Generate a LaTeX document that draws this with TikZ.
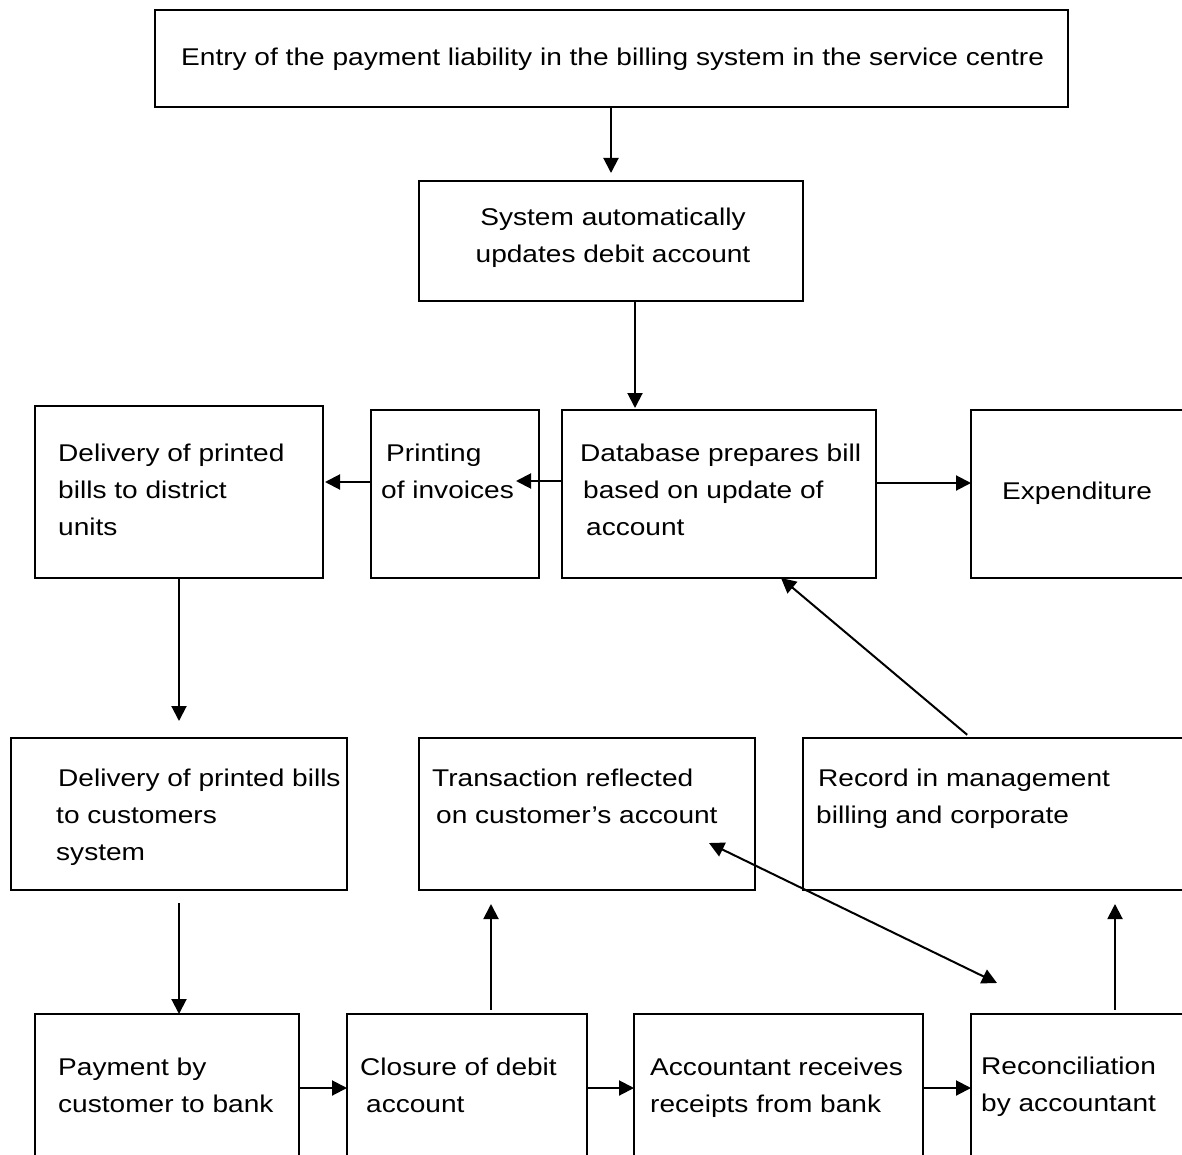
\documentclass[tikz,border=0pt]{standalone}
\usepackage{fontspec}
\setmainfont{Liberation Sans}[FakeStretch=1.16]
\usetikzlibrary{arrows.meta}
\begin{document}
\begin{tikzpicture}[x=1pt,y=-1pt,
  box/.style={draw, line width=2pt, inner sep=0pt, outer sep=0pt, anchor=north west},
  lbl/.style={inner sep=0pt, anchor=base west, font=\fontsize{24.2}{37}\selectfont},
  tip/.tip={Triangle[length=15pt,width=15pt]},
  arr/.style={line width=2pt, -tip},
  darr/.style={line width=2pt, tip-tip}]
\useasboundingbox (0,0) rectangle (1182,1155);
\clip (0,0) rectangle (1182,1155);
\fill[white] (0,0) rectangle (1182,1155);

% process boxes
\node[box, minimum width=913pt, minimum height=97pt]  (top)         at (155,10)   {};
\node[box, minimum width=384pt, minimum height=120pt] (system)      at (419,181)  {};
\node[box, minimum width=288pt, minimum height=172pt] (district)    at (35,406)   {};
\node[box, minimum width=168pt, minimum height=168pt] (printing)    at (371,410)  {};
\node[box, minimum width=314pt, minimum height=168pt] (database)    at (562,410)  {};
\node[box, minimum width=260pt, minimum height=168pt] (expend)      at (971,410)  {};
\node[box, minimum width=336pt, minimum height=152pt] (customers)   at (11,738)   {};
\node[box, minimum width=336pt, minimum height=152pt] (transaction) at (419,738)  {};
\node[box, minimum width=420pt, minimum height=152pt] (record)      at (803,738)  {};
\node[box, minimum width=264pt, minimum height=200pt] (payment)     at (35,1014)  {};
\node[box, minimum width=240pt, minimum height=200pt] (closure)     at (347,1014) {};
\node[box, minimum width=289pt, minimum height=200pt] (accountant)  at (634,1014) {};
\node[box, minimum width=260pt, minimum height=200pt] (recon)       at (971,1014) {};

% box texts
\node[lbl] (t-top) at (181,66) {Entry of the payment liability in the billing system in the service centre};
\node[lbl, anchor=base] (t-system) at (613,226)
  {\begin{tabular}[t]{@{}c@{}}System automatically\\ updates debit account\end{tabular}};
\node[lbl] (t-district) at (58,461)
  {\begin{tabular}[t]{@{}l@{}}Delivery of printed\\ bills to district\\ units\end{tabular}};
\node[lbl] (t-printing) at (381,461)
  {\begin{tabular}[t]{@{}l@{}}\hspace{5pt}Printing\\ of invoices\end{tabular}};
\node[lbl] (t-database) at (580,461)
  {\begin{tabular}[t]{@{}l@{}}Database prepares bill\\ \hspace{3pt}based on update of\\ \hspace{6pt}account\end{tabular}};
\node[lbl] (t-expend) at (1002,499) {Expenditure};
\node[lbl] (t-customers) at (56,786)
  {\begin{tabular}[t]{@{}l@{}}\hspace{2pt}Delivery of printed bills\\ to customers\\ system\end{tabular}};
\node[lbl] (t-transaction) at (432,786)
  {\begin{tabular}[t]{@{}l@{}}Transaction reflected\\ \hspace{4pt}on customer’s account\end{tabular}};
\node[lbl] (t-record) at (816,786)
  {\begin{tabular}[t]{@{}l@{}}\hspace{2pt}Record in management\\ billing and corporate\end{tabular}};
\node[lbl] (t-payment) at (58,1075)
  {\begin{tabular}[t]{@{}l@{}}Payment by\\ customer to bank\end{tabular}};
\node[lbl] (t-closure) at (360,1075)
  {\begin{tabular}[t]{@{}l@{}}Closure of debit\\ \hspace{6pt}account\end{tabular}};
\node[lbl] (t-accountant) at (650,1075)
  {\begin{tabular}[t]{@{}l@{}}Accountant receives\\ receipts from bank\end{tabular}};
\node[lbl] (t-recon) at (981,1074)
  {\begin{tabular}[t]{@{}l@{}}Reconciliation\\ by accountant\end{tabular}};

% connector guide positions
\coordinate (c1) at (611,0);
\coordinate (c2) at (635,0);
\coordinate (c3) at (179,0);
\coordinate (c4) at (491,0);
\coordinate (c5) at (1115,0);
\coordinate (c6) at (971,0);
\coordinate (c7) at (781,0);
\coordinate (r1) at (0,481);
\coordinate (r2) at (0,482);
\coordinate (r3) at (0,483);
\coordinate (r4) at (0,1088);
\coordinate (pin) at (516,481);
\coordinate (d1) at (709,843);
\coordinate (d2) at (997,983);

% connectors
\draw[arr, shorten >=8pt] (top.south -| c1) -- (system.north -| c1);
\draw[arr, shorten >=2pt] (system.south -| c2) -- (database.north -| c2);
\draw[arr] (database.west |- r1) -- (pin);
\draw[arr, shorten >=2pt] (printing.west |- r2) -- (district.east |- r2);
\draw[arr] (database.east |- r3) -- (expend.west |- r3);
\draw[arr, shorten >=17pt] (district.south -| c3) -- (customers.north -| c3);
\draw[arr, shorten <=13pt] (customers.south -| c3) -- (payment.north -| c3);
\draw[arr] (payment.east |- r4) -- (closure.west |- r4);
\draw[arr] (closure.east |- r4) -- (accountant.west |- r4);
\draw[arr] (accountant.east |- r4) -- (recon.west |- r4);
\draw[arr, shorten <=4pt, shorten >=14pt] (closure.north -| c4) -- (transaction.south -| c4);
\draw[arr, shorten <=4pt, shorten >=14pt] (recon.north -| c5) -- (record.south -| c5);
\draw[arr, shorten <=5pt] (record.north -| c6) -- (database.south -| c7);
\draw[darr] (d1) -- (d2);
\end{tikzpicture}
\end{document}
